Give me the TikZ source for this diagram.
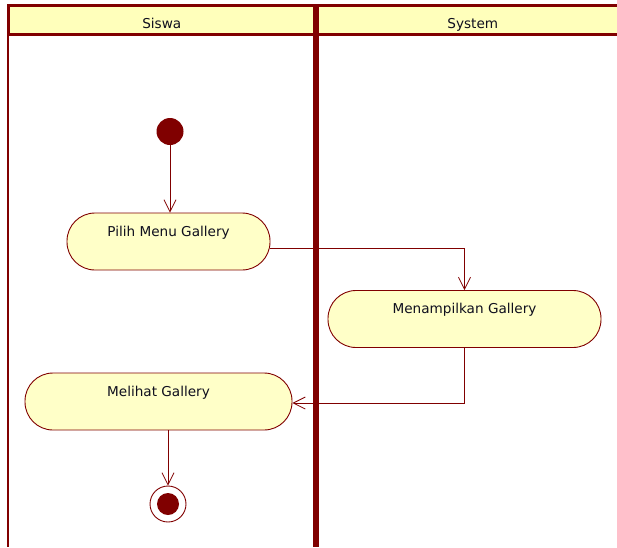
\documentclass[tikz,border=0pt]{standalone}
\usepackage{fontspec}
\setmainfont{DejaVu Sans}
\usepackage{tikz}
\usetikzlibrary{arrows.meta,positioning}
\definecolor{umlred}{RGB}{128,0,0}
\definecolor{headfill}{RGB}{255,255,187}
\definecolor{actfill}{RGB}{255,255,200}
\definecolor{txt}{RGB}{15,15,30}

\begin{document}
\begin{tikzpicture}[x=1pt,y=-1pt]
\tikzstyle{lanehead}=[rectangle, draw=umlred, fill=headfill, line width=3pt,
                      minimum height=29pt, inner sep=0pt, outer sep=0pt,
                      text height=18pt, text depth=1pt, text=txt,
                      font=\fontsize{13.6}{16}\selectfont]
\tikzstyle{activity}=[rectangle, rounded corners=28pt, draw=umlred, fill=actfill,
                      line width=0.9pt, minimum height=57pt, inner sep=0pt,
                      text height=10pt, text depth=21pt, text=txt,
                      font=\fontsize{13.6}{16}\selectfont]
\tikzstyle{startdot}=[circle, fill=umlred, minimum size=27pt, inner sep=0pt]
\tikzstyle{enddot}=[circle, draw=umlred, line width=0.9pt, fill=white,
                    minimum size=36pt, inner sep=0pt,
                    path picture={\fill[umlred] (path picture bounding box.center) circle (11pt);}]
\tikzstyle{flow}=[draw=umlred, line width=0.8pt,
                  -{Straight Barb[length=12pt,width=12pt]}]
\useasboundingbox (0,0) rectangle (617,547);
\clip (0,0) rectangle (617,547);
\node[lanehead, minimum width=307.5pt] (siswa) at (161.75,20) {Siswa};
\node[lanehead, minimum width=314.5pt] (system) at (472.75,20) {System};
\draw[umlred, line width=2.5pt] (siswa.north west) -- (siswa.north west |- 0,547);
\draw[umlred, line width=6pt] (siswa.north east) -- (siswa.north east |- 0,547);
\node[startdot] (init) at (170,131.5) {};
\node[activity, minimum width=203pt] (pilih) at (168.5,241.5) {Pilih Menu Gallery};
\node[activity, minimum width=273pt] (tampil) at (464.5,319) {Menampilkan Gallery};
\node[activity, minimum width=267pt] (lihat) at (158.5,401.5) {Melihat Gallery};
\node[enddot] (final) at (168,504) {};
\draw[flow] (init) -- (init |- pilih.north);
\draw[flow] ([yshift=-6.5pt]pilih.east) -| (tampil.north);
\draw[flow] (tampil.south) |- ([yshift=-1.5pt]lihat.east);
\draw[flow] (lihat.south -| final) -- (final);
\end{tikzpicture}
\end{document}
